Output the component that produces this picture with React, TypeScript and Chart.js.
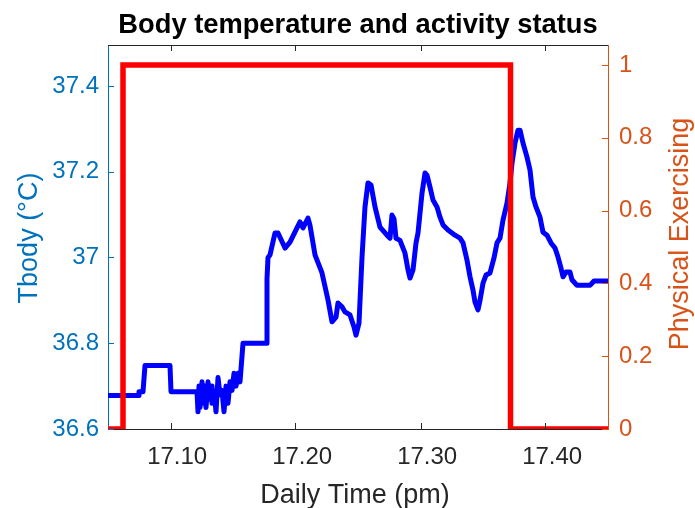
import React, { useEffect, useRef } from 'react';
import { Chart, registerables } from 'chart.js';

Chart.register(...registerables);

// ---- data ----
const timeValues = [
  17.050, 17.074, 17.0748, 17.078, 17.0796, 17.0996, 17.1004, 17.1212,
  17.1220, 17.1228, 17.1236, 17.1252, 17.1260, 17.1276, 17.1284, 17.1300,
  17.1308, 17.1324, 17.1332, 17.1348, 17.1364, 17.1380, 17.1396, 17.1412,
  17.1428, 17.1444, 17.1460, 17.1476, 17.1492, 17.1508, 17.1524, 17.1540,
  17.1556, 17.1564, 17.1580, 17.1764, 17.1772, 17.1780, 17.1796, 17.1836,
  17.1860, 17.1916, 17.1956, 17.2012, 17.2036, 17.2060, 17.2100, 17.2116,
  17.2156, 17.2212, 17.2260, 17.2292, 17.2324, 17.2340, 17.2372, 17.2396,
  17.2436, 17.2468, 17.2484, 17.2508, 17.2532, 17.2556, 17.2580, 17.2604,
  17.2636, 17.2676, 17.2732, 17.2756, 17.2772, 17.2788, 17.2804, 17.2836,
  17.2876, 17.2900, 17.2916, 17.2940, 17.2964, 17.2980, 17.3012, 17.3036,
  17.3052, 17.3076, 17.3100, 17.3132, 17.3156, 17.3180, 17.3220, 17.3276,
  17.3316, 17.3340, 17.3372, 17.3396, 17.3420, 17.3436, 17.3460, 17.3476,
  17.3500, 17.3524, 17.3556, 17.3588, 17.3612, 17.3636, 17.3660, 17.3692,
  17.3716, 17.3732, 17.3756, 17.3780, 17.3796, 17.3820, 17.3852, 17.3876,
  17.3900, 17.3924, 17.3956, 17.3980, 17.4012, 17.4044, 17.4076, 17.4100,
  17.4124, 17.4140, 17.4164, 17.4196, 17.4212, 17.4252, 17.4356, 17.4388,
  17.4500,
];
const tbodyValues = [
  36.678, 36.678, 36.687, 36.687, 36.748, 36.748, 36.687, 36.687,
  36.640, 36.700, 36.650, 36.710, 36.660, 36.700, 36.650, 36.710,
  36.670, 36.700, 36.660, 36.690, 36.640, 36.720, 36.680, 36.690,
  36.640, 36.700, 36.660, 36.710, 36.690, 36.730, 36.700, 36.730,
  36.710, 36.740, 36.800, 36.800, 36.950, 37.000, 37.006, 37.057,
  37.057, 37.022, 37.036, 37.069, 37.083, 37.069, 37.092, 37.075,
  37.006, 36.964, 36.901, 36.850, 36.861, 36.894, 36.885, 36.873,
  36.866, 36.838, 36.819, 36.847, 37.000, 37.118, 37.174, 37.169,
  37.118, 37.071, 37.052, 37.045, 37.099, 37.090, 37.045, 37.040,
  37.010, 36.971, 36.952, 36.971, 37.034, 37.057, 37.150, 37.197,
  37.192, 37.164, 37.134, 37.118, 37.094, 37.076, 37.064, 37.052,
  37.045, 37.034, 36.994, 36.955, 36.924, 36.896, 36.878, 36.900,
  36.940, 36.959, 36.964, 36.999, 37.034, 37.045, 37.087, 37.127,
  37.174, 37.220, 37.267, 37.297, 37.297, 37.267, 37.234, 37.204,
  37.141, 37.118, 37.094, 37.059, 37.052, 37.034, 37.022, 37.001,
  36.975, 36.955, 36.966, 36.966, 36.948, 36.935, 36.935, 36.945,
  36.945,
];
const activityTimes = [17.05, 17.062, 17.062, 17.372, 17.372, 17.45];
const activityValues = [0, 0, 1, 1, 0, 0];

const xTickValues = [17.1, 17.2, 17.3, 17.4];
const xTickLabels = ['17.10', '17.20', '17.30', '17.40'];
const leftTickValues = [36.6, 36.8, 37, 37.2, 37.4];
const leftTickLabels = ['36.6', '36.8', '37', '37.2', '37.4'];
const rightTickValues = [0, 0.2, 0.4, 0.6, 0.8, 1];
const rightTickLabels = ['0', '0.2', '0.4', '0.6', '0.8', '1'];

const TITLE = 'Body temperature and activity status';
const X_LABEL = 'Daily Time (pm)';
const LEFT_LABEL = 'Tbody (°C)';
const RIGHT_LABEL = 'Physical Exercising';

// ---- styles ----
const BLUE_AX = '#0072BD';
const ORANGE_AX = '#D95319';
const DARK = '#262626';
const FONT = '"Liberation Sans", Arial, Helvetica, sans-serif';
const TICK_SIZE = 24;
const LABEL_SIZE = 27;
const TITLE_SIZE = 27.3;
const TICK_LEN = 6;

const matlabAxes = {
  id: 'matlabAxes',
  afterDraw(chart: any) {
    const { ctx, chartArea: a, scales } = chart;
    ctx.save();
    ctx.lineWidth = 1;
    const seg = (x1: number, y1: number, x2: number, y2: number) => {
      ctx.beginPath();
      ctx.moveTo(x1, y1);
      ctx.lineTo(x2, y2);
      ctx.stroke();
    };
    // top box line
    ctx.strokeStyle = DARK;
    seg(a.left, a.top + 0.5, a.right, a.top + 0.5);
    // x ticks (bottom and top, inward)
    xTickValues.forEach((v) => {
      const px = Math.round(scales.x.getPixelForValue(v)) + 0.5;
      seg(px, a.bottom, px, a.bottom - TICK_LEN);
      seg(px, a.top, px, a.top + TICK_LEN);
    });
    // left ticks
    ctx.strokeStyle = BLUE_AX;
    leftTickValues.forEach((v) => {
      const py = Math.round(scales.y.getPixelForValue(v)) + 0.5;
      seg(a.left, py, a.left + TICK_LEN, py);
    });
    // right ticks
    ctx.strokeStyle = ORANGE_AX;
    rightTickValues.forEach((v) => {
      const py = Math.round(scales.y1.getPixelForValue(v)) + 0.5;
      seg(a.right, py, a.right - TICK_LEN, py);
    });

    // x tick labels (MATLAB-like placement)
    ctx.fillStyle = DARK;
    ctx.font = `${TICK_SIZE}px ${FONT}`;
    ctx.textBaseline = 'middle';
    ctx.textAlign = 'left';
    xTickValues.forEach((v, i) => {
      const px = scales.x.getPixelForValue(v);
      const lbl = xTickLabels[i];
      const w = ctx.measureText(lbl.slice(0, -1)).width;
      ctx.fillText(lbl, px - w / 2, a.bottom + 28);
    });

    // title
    const cx = (a.left + a.right) / 2;
    ctx.fillStyle = '#000000';
    ctx.font = `bold ${TITLE_SIZE}px ${FONT}`;
    ctx.textAlign = 'center';
    ctx.textBaseline = 'alphabetic';
    ctx.fillText(TITLE, cx, 33);

    // x label
    ctx.fillStyle = DARK;
    ctx.font = `${LABEL_SIZE}px ${FONT}`;
    ctx.fillText(X_LABEL, cx - 3, 503);

    // left label
    ctx.save();
    ctx.translate(37, 238);
    ctx.rotate(-Math.PI / 2);
    ctx.fillStyle = BLUE_AX;
    ctx.fillText(LEFT_LABEL, 0, 0);
    ctx.restore();

    // right label
    ctx.save();
    ctx.translate(688, 234);
    ctx.rotate(-Math.PI / 2);
    ctx.fillStyle = ORANGE_AX;
    ctx.fillText(RIGHT_LABEL, 0, 0);
    ctx.restore();

    ctx.restore();
  },
};

export default function App() {
  const canvasRef = useRef<HTMLCanvasElement | null>(null);

  useEffect(() => {
    document.body.style.margin = '0';
    const canvas = canvasRef.current;
    if (!canvas) return;
    const chart = new Chart(canvas, {
      type: 'line',
      data: {
        datasets: [
          {
            label: 'Physical Exercising',
            data: activityTimes.map((t, i) => ({ x: t, y: activityValues[i] })),
            yAxisID: 'y1',
            borderColor: '#FF0000',
            backgroundColor: '#FF0000',
            borderWidth: 5.5,
            pointRadius: 0,
            tension: 0,
            fill: false,
            clip: 0,
            order: 0,
          },
          {
            label: 'Tbody',
            data: timeValues.map((t, i) => ({ x: t, y: tbodyValues[i] })),
            yAxisID: 'y',
            borderColor: '#0000FF',
            backgroundColor: '#0000FF',
            borderWidth: 5,
            borderJoinStyle: 'round',
            borderCapStyle: 'round',
            pointRadius: 0,
            tension: 0,
            fill: false,
            order: 1,
          },
        ],
      },
      options: {
        animation: false,
        responsive: false,
        maintainAspectRatio: false,
        events: [],
        layout: { padding: { top: 45, left: 0, right: 0, bottom: 0 } },
        plugins: {
          legend: { display: false },
          tooltip: { enabled: false },
          title: { display: false },
        },
        scales: {
          x: {
            type: 'linear',
            position: 'bottom',
            min: 17.05,
            max: 17.45,
            grid: { display: false, drawTicks: false },
            border: { display: true, color: DARK, width: 1 },
            ticks: { display: false },
            afterBuildTicks: (s: any) => {
              s.ticks = xTickValues.map((v) => ({ value: v }));
            },
            afterFit: (s: any) => {
              s.height = 79;
            },
          },
          y: {
            type: 'linear',
            position: 'left',
            min: 36.6,
            max: 37.4956,
            grid: { display: false, drawTicks: false },
            border: { display: true, color: BLUE_AX, width: 1 },
            ticks: {
              color: BLUE_AX,
              font: { family: FONT, size: TICK_SIZE },
              padding: 9,
              callback: (_v: any, i: number) => leftTickLabels[i],
            },
            afterBuildTicks: (s: any) => {
              s.ticks = leftTickValues.map((v) => ({ value: v }));
            },
            afterFit: (s: any) => {
              s.width = 108;
            },
          },
          y1: {
            type: 'linear',
            position: 'right',
            min: 0,
            max: 1.055,
            grid: { display: false, drawTicks: false },
            border: { display: true, color: ORANGE_AX, width: 1 },
            ticks: {
              color: ORANGE_AX,
              font: { family: FONT, size: TICK_SIZE },
              padding: 11,
              callback: (_v: any, i: number) => rightTickLabels[i],
            },
            afterBuildTicks: (s: any) => {
              s.ticks = rightTickValues.map((v) => ({ value: v }));
            },
            afterFit: (s: any) => {
              s.width = 87;
            },
          },
        },
      },
      plugins: [matlabAxes],
    } as any);
    return () => chart.destroy();
  }, []);

  return (
    <div style={{ width: 695, height: 508, background: '#ffffff' }}>
      <canvas ref={canvasRef} width={695} height={508} style={{ display: 'block' }} />
    </div>
  );
}
